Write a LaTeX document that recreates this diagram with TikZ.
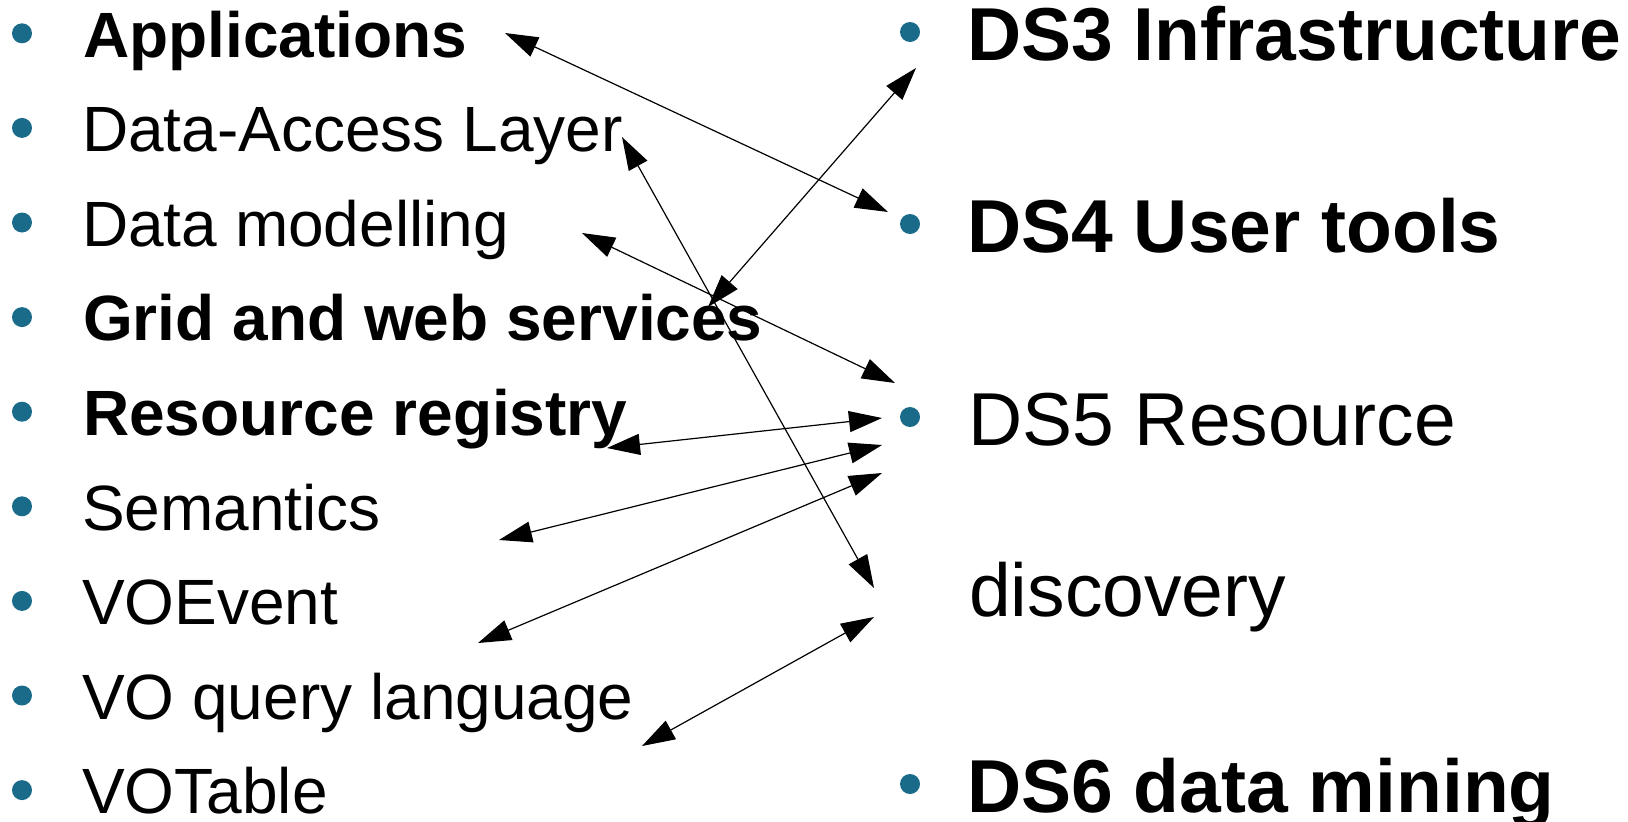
\documentclass[tikz,border=0pt]{standalone}
\usepackage{fontspec}
\setmainfont{Liberation Sans}
\usetikzlibrary{arrows.meta}
\definecolor{bulc}{RGB}{26,107,138}
\tikzset{
  bul/.style={circle,fill=bulc,draw=none,minimum size=20pt,inner sep=0pt},
  ltxt/.style={anchor=base west,inner sep=0pt,font=\fontsize{64}{64}\selectfont},
  rtxt/.style={anchor=base west,inner sep=0pt,font=\fontsize{75}{75}\selectfont},
  link/.style={line width=1.2pt,{Triangle[length=33pt,width=21pt]}-{Triangle[length=33pt,width=21pt]}}
}
\begin{document}
\begin{tikzpicture}[x=1pt,y=-1pt]
\useasboundingbox (0,0) rectangle (1628,822);
% left column
\foreach \i/\t/\w in {0/Applications/b,1/Data-Access Layer/n,2/Data modelling/n,3/Grid and web services/b,4/Resource registry/b,5/Semantics/n,6/VOEvent/n,7/VO query language/n,8/VOTable/n}{
  \node[bul] (lb\i) at (22,{33.3+94.6*\i}) {};
  \if b\w
    \node[ltxt] (lt\i) at (83,{57+94.6*\i}) {\bfseries \t};
  \else
    \node[ltxt] (lt\i) at (82,{57+94.6*\i}) {\t};
  \fi
}
% right column
\node[bul] (rb3) at (910,32) {};
\node[rtxt] (ds3) at (967,60) {\bfseries DS3 Infrastructure};
\node[bul] (rb4) at (910,224) {};
\node[rtxt] (ds4) at (967,252) {\bfseries DS4 User tools};
\node[bul] (rb5) at (910,417) {};
\node[rtxt] (ds5) at (968,445) {DS5 Resource};
\node[rtxt] (disc) at (969,616) {discovery};
\node[bul] (rb6) at (910,784) {};
\node[rtxt] (ds6) at (967,812) {\bfseries DS6 data mining};
% connector end points
\coordinate (a1l) at (505,33);  \coordinate (a1r) at (888,212);
\coordinate (a2l) at (708,307); \coordinate (a2r) at (916,68);
\coordinate (a3l) at (622,137); \coordinate (a3r) at (874,588);
\coordinate (a4l) at (582,233); \coordinate (a4r) at (895,383);
\coordinate (a5l) at (607,448); \coordinate (a5r) at (882,418);
\coordinate (a6l) at (499,540); \coordinate (a6r) at (882,445);
\coordinate (a7l) at (478,643); \coordinate (a7r) at (882,473);
\coordinate (a8l) at (642,746); \coordinate (a8r) at (874,617);
\foreach \k in {1,...,8}{
  \draw[link] (a\k l) -- (a\k r);
}
\end{tikzpicture}
\end{document}
